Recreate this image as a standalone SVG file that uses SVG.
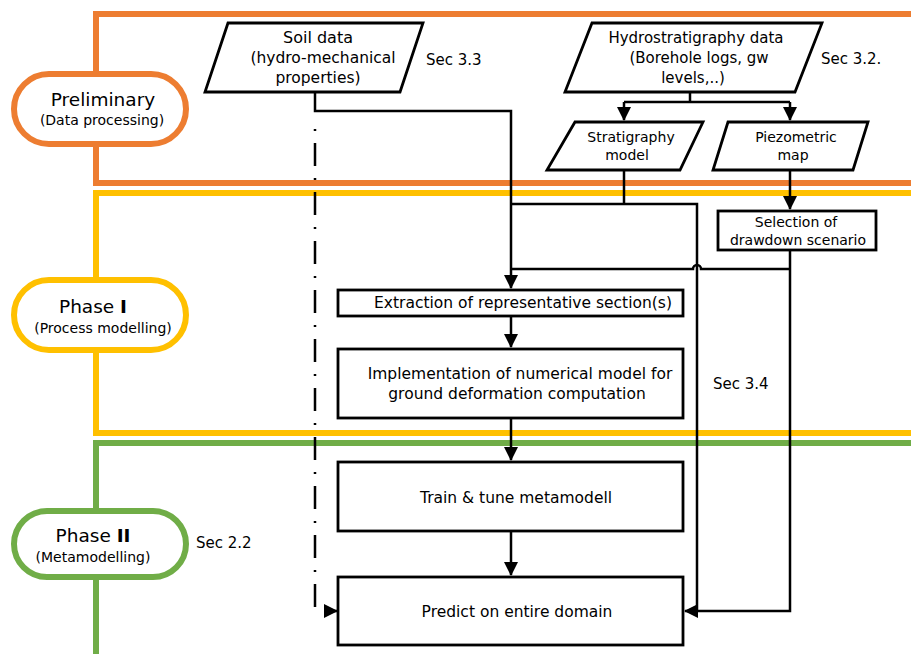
<svg xmlns="http://www.w3.org/2000/svg" width="911" height="654" viewBox="0 0 911 654">
<defs>
<style>
text{font-family:"DejaVu Sans","Liberation Sans",sans-serif;fill:#000;text-anchor:middle}
.band{fill:none;stroke-width:6}
.stad{fill:#fff;stroke-width:6}
.box{fill:#fff;stroke:#000;stroke-width:2.8}
.c{fill:none;stroke:#000;stroke-width:2.5}
.t{font-size:15.5px}
.h{font-size:15px}
.s{font-size:15px;text-anchor:start}
</style>
<marker id="ah" markerUnits="userSpaceOnUse" markerWidth="14" markerHeight="14" refX="13" refY="7" orient="auto">
<path d="M0,0 L14,7 L0,14 z" fill="#000"/>
</marker>
</defs>

<g id="bands">
<path class="band" stroke="#ED7D31" d="M911,14 H96 V183 H911"/>
<path class="band" stroke="#FFC000" d="M911,193 H96 V433 H911"/>
<path class="band" stroke="#70AD47" d="M911,443 H96 V654"/>
</g>

<g id="preliminary">
<rect class="stad" stroke="#ED7D31" x="14" y="74" width="172" height="70" rx="35"/>
<text x="103" y="106" font-size="18.5">Preliminary</text>
<text x="102" y="125" font-size="14">(Data processing)</text>
</g>
<g id="phase1">
<rect class="stad" stroke="#FFC000" x="14" y="280" width="172" height="70" rx="35"/>
<text x="93" y="313" font-size="18.5">Phase <tspan font-weight="bold">I</tspan></text>
<text x="103" y="333" font-size="14">(Process modelling)</text>
</g>
<g id="phase2">
<rect class="stad" stroke="#70AD47" x="14" y="511" width="172" height="66" rx="33"/>
<text x="93" y="542" font-size="18.5">Phase <tspan font-weight="bold">II</tspan></text>
<text x="93" y="562" font-size="14">(Metamodelling)</text>
</g>

<g id="connectors">
<path class="c" d="M315,92 V111 H511 V288" marker-end="url(#ah)"/>
<path class="c" d="M315,129 V608" stroke-dasharray="2 12 23 12"/>
<path class="c" d="M324,611 H337" marker-end="url(#ah)"/>
<path class="c" d="M690,92 V102"/>
<path class="c" d="M624,102 H790"/>
<path class="c" d="M624,102 V120" marker-end="url(#ah)"/>
<path class="c" d="M790,102 V120" marker-end="url(#ah)"/>
<path class="c" d="M624,170 V204"/>
<path class="c" d="M511,204 H697 V611"/>
<path class="c" d="M790,170 V209" marker-end="url(#ah)"/>
<path class="c" d="M790,250 V611 H685" marker-end="url(#ah)"/>
<path class="c" d="M790,269 H701 A4,4 0 0 0 693,269 H511"/>
<path class="c" d="M511,317 V347" marker-end="url(#ah)"/>
<path class="c" d="M511,418 V460" marker-end="url(#ah)"/>
<path class="c" d="M511,532 V575" marker-end="url(#ah)"/>
</g>

<g id="soil">
<polygon class="box" points="228,23 423,23 400,92 205,92"/>
<text x="318" y="43" font-size="16">Soil data</text>
<text class="t" x="323" y="63">(hydro-mechanical</text>
<text class="t" x="318" y="83">properties)</text>
</g>
<text class="s" x="426" y="65">Sec 3.3</text>

<g id="hydro">
<polygon class="box" points="592,23 822,23 795,92 565,92"/>
<text class="h" x="696" y="43">Hydrostratigraphy data</text>
<text class="h" x="699" y="63">(Borehole logs, gw</text>
<text class="h" x="693" y="83">levels,..)</text>
</g>
<text class="s" x="821" y="64">Sec 3.2.</text>

<g id="strat">
<polygon class="box" points="575,122 703,122 680,170 547,170"/>
<text x="631" y="142" font-size="14">Stratigraphy</text>
<text x="627" y="160" font-size="14">model</text>
</g>
<g id="piezo">
<polygon class="box" points="728,122 868,122 853,170 713,170"/>
<text x="796" y="142" font-size="14">Piezometric</text>
<text x="793" y="160" font-size="14">map</text>
</g>
<g id="selection">
<rect class="box" x="718" y="211" width="158" height="39"/>
<text x="796" y="227" font-size="14">Selection of</text>
<text x="798" y="245" font-size="14">drawdown scenario</text>
</g>

<g id="extraction">
<rect class="box" x="338" y="290" width="345" height="26"/>
<text class="t" x="523" y="308">Extraction of representative section(s)</text>
</g>
<g id="implementation">
<rect class="box" x="338" y="349" width="345" height="69"/>
<text class="t" x="520" y="379">Implementation of numerical model for</text>
<text class="t" x="517" y="399">ground deformation computation</text>
</g>
<text class="s" x="713" y="389">Sec 3.4</text>
<g id="train">
<rect class="box" x="338" y="462" width="345" height="69"/>
<text class="t" x="516" y="503">Train &amp; tune metamodell</text>
</g>
<g id="predict">
<rect class="box" x="338" y="577" width="345" height="68"/>
<text class="t" x="517" y="617">Predict on entire domain</text>
</g>
<text class="s" x="196" y="548">Sec 2.2</text>
</svg>
